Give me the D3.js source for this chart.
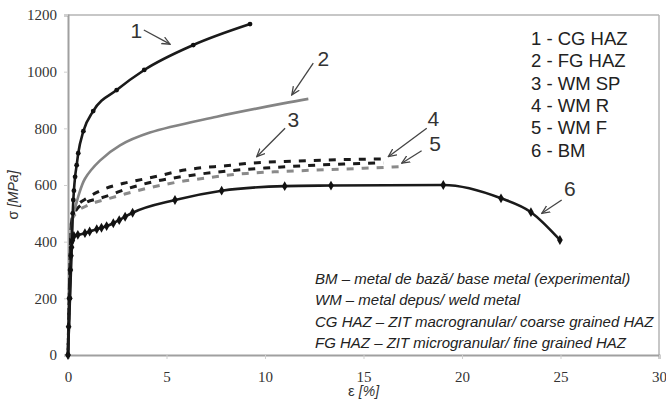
<!DOCTYPE html>
<html>
<head>
<meta charset="utf-8">
<script src="https://cdn.jsdelivr.net/npm/d3@7"></script>
<style>
  html, body { margin: 0; padding: 0; background: #fff; }
  svg { display: block; }
</style>
</head>
<body>
<svg id="chart" width="666" height="409"></svg>
<script>
// ---------- data (strain %, stress MPa) ----------
const cgHaz = [[0,0],[0.1,200],[0.2,400],[0.24,500],[0.27,547],[0.3,580],[0.36,629],[0.44,670],[0.52,712],[0.78,790],[1.28,861],[2.47,935],[3.87,1006],[6.36,1094],[9.24,1168]];
const fgHaz = [[0,0],[0.12,250],[0.25,490],[0.36,518],[0.52,559],[0.86,622],[1.62,686],[2.64,740],[4.16,785],[7.55,841],[10.93,888],[12.2,904]];
const wmSP  = [[0,0],[0.2,480],[0.4,510],[0.96,540],[1.56,552],[2.23,567],[2.83,583],[3.67,600],[4.43,613],[5.28,624],[6.13,633],[6.97,641],[8.5,652],[10,660],[12,668],[14,674],[16,678]];
const wmR   = [[0,0],[0.2,490],[0.4,520],[1,555],[1.81,585],[2.83,606],[3.84,621],[4.77,635],[5.62,649],[6.55,659],[8,668],[9.24,677],[11,683],[13,688],[16.1,692]];
const wmF   = [[0,0],[0.2,475],[0.4,500],[0.9,525],[1.39,539],[1.9,549],[2.83,567],[4,588],[4.94,602],[5.7,612],[6.55,620],[7.8,632],[9.07,641],[11,648],[13,654],[15,659],[16.85,665]];
const bm    = [[0,0],[0.03,100],[0.07,200],[0.12,300],[0.15,350],[0.18,380],[0.22,405],[0.3,420],[0.5,424],[0.86,430],[1.1,436],[1.46,444],[1.7,449],[1.96,455],[2.3,465],[2.6,476],[2.9,488],[3.28,502],[5.43,547],[7.8,580],[11,596],[13.35,598],[19.05,600],[21.98,553],[23.5,504],[24.97,406]];

const xTicks = [0,5,10,15,20,25,30];
const yTicks = [0,200,400,600,800,1000,1200];
const legendLines = ["1 - CG HAZ","2 - FG HAZ","3 - WM SP","4 - WM R","5 - WM F","6 - BM"];
const noteLines = [
  "BM \u2013 metal de baz\u0103/ base metal (experimental)",
  "WM \u2013 metal depus/ weld metal",
  "CG HAZ \u2013 ZIT macrogranular/ coarse grained HAZ",
  "FG HAZ \u2013 ZIT microgranular/ fine grained HAZ"
];
// curve number labels: label position and arrow (from -> to), in data units
const labelText = ["1","2","3","4","5","6"];
const labelPos  = [[3.47,1147],[12.96,1047],[11.44,830],[18.54,835],[18.63,747],[25.48,588]];
const arrowFrom = [[3.85,1147],[12.45,1030],[11.02,800],[18.21,800],[17.95,721],[25.06,547]];
const arrowTo   = [[5.18,1097],[11.36,918],[9.58,700],[16.26,700],[16.94,677],[24.05,500]];

// ---------- layout ----------
const W = 666, H = 409;
const m = {left: 68, top: 15, right: 7, bottom: 54};
const svg = d3.select("#chart");
const x = d3.scaleLinear().domain([0,30]).range([m.left, W - m.right]);
const y = d3.scaleLinear().domain([0,1200]).range([H - m.bottom, m.top]);

const defs = svg.append("defs");
defs.append("marker").attr("id","arr").attr("viewBox","0 0 10 10")
  .attr("refX",9).attr("refY",5).attr("markerWidth",9).attr("markerHeight",9)
  .attr("markerUnits","userSpaceOnUse").attr("orient","auto")
  .append("path").attr("d","M0,1 L9,5 L0,9").attr("fill","none")
  .attr("stroke","#444").attr("stroke-width",1.4);

// frame (top & right)
svg.append("line").attr("x1",x(0)).attr("x2",x(30)).attr("y1",y(1200)).attr("y2",y(1200))
  .attr("stroke","#b5b5b5").attr("stroke-width",1.5);
svg.append("line").attr("x1",x(30)).attr("x2",x(30)).attr("y1",y(1200)).attr("y2",y(0))
  .attr("stroke","#b5b5b5").attr("stroke-width",1.5);

// axes
const gx = svg.append("g").attr("transform",`translate(0,${y(0)})`)
  .call(d3.axisBottom(x).tickValues(xTicks).tickSize(4).tickPadding(12).tickFormat(d3.format("d")));
const gy = svg.append("g").attr("transform",`translate(${x(0)},0)`)
  .call(d3.axisLeft(y).tickValues(yTicks).tickSize(4).tickPadding(7).tickFormat(d3.format("d")));
[gx, gy].forEach(g => {
  g.select(".domain").attr("stroke","#a0a0a0").attr("stroke-width",2);
  g.selectAll(".tick line").attr("stroke","#cfcfcf");
  g.selectAll(".tick text").attr("font-family","'Liberation Serif', 'Times New Roman', serif")
    .attr("font-size",15).attr("fill","#333");
});

// axis titles
const yt = svg.append("text").attr("transform",`translate(18,${(y(0)+y(1200))/2 + 10}) rotate(-90)`)
  .attr("text-anchor","middle").attr("font-family","'Liberation Sans', Arial, sans-serif")
  .attr("font-size",14).attr("fill","#333");
yt.append("tspan").text("\u03c3 ");
yt.append("tspan").attr("font-style","italic").text("[MPa]");
const xt = svg.append("text").attr("x",(x(0)+x(30))/2).attr("y",396)
  .attr("text-anchor","middle").attr("font-family","'Liberation Sans', Arial, sans-serif")
  .attr("font-size",14).attr("fill","#333");
xt.append("tspan").attr("font-size",15).text("\u03b5 ");
xt.append("tspan").attr("font-style","italic").text("[%]");

// curves
const lineM = d3.line().x(d => x(d[0])).y(d => y(d[1])).curve(d3.curveMonotoneX);
const lineC = d3.line().x(d => x(d[0])).y(d => y(d[1])).curve(d3.curveCatmullRom.alpha(0.5));
const series = [
  {data: wmF,   color: "#8a8a8a", dash: "7,8", off: 0, w: 3, gen: lineM},
  {data: wmSP,  color: "#1a1a1a", dash: "7,8", off: 5, w: 3, gen: lineM},
  {data: wmR,   color: "#1a1a1a", dash: "7,8", off: 10, w: 3, gen: lineM},
  {data: fgHaz, color: "#848484", dash: null,  off: 0, w: 2.6, gen: lineC},
  {data: bm,    color: "#1a1a1a", dash: null,  off: 0, w: 2.6, gen: lineM},
  {data: cgHaz, color: "#1a1a1a", dash: null,  off: 0, w: 2.6, gen: lineM}
];
series.forEach(s => {
  svg.append("path").datum(s.data).attr("d", s.gen).attr("fill","none")
    .attr("stroke", s.color).attr("stroke-width", s.w)
    .attr("stroke-dasharray", s.dash).attr("stroke-dashoffset", s.off);
});
// markers
svg.append("g").selectAll("circle").data(cgHaz).join("circle")
  .attr("cx", d => x(d[0])).attr("cy", d => y(d[1])).attr("r", 2.4).attr("fill","#111");
svg.append("g").selectAll("path").data(bm).join("path")
  .attr("transform", d => `translate(${x(d[0])},${y(d[1])})`)
  .attr("d", d3.symbol(d3.symbolDiamond, 28)).attr("fill","#111");

// curve labels with arrows
labelText.forEach((t, i) => {
  svg.append("line")
    .attr("x1", x(arrowFrom[i][0])).attr("y1", y(arrowFrom[i][1]))
    .attr("x2", x(arrowTo[i][0])).attr("y2", y(arrowTo[i][1]))
    .attr("stroke","#444").attr("stroke-width",1.3).attr("marker-end","url(#arr)");
  svg.append("text").attr("x", x(labelPos[i][0])).attr("y", y(labelPos[i][1]))
    .attr("text-anchor","middle").attr("dominant-baseline","central")
    .attr("font-family","'Liberation Sans', Arial, sans-serif").attr("font-size",21)
    .attr("fill","#333").text(t);
});

// legend (top right)
svg.append("g").selectAll("text").data(legendLines).join("text")
  .attr("x", 531).attr("y", (d,i) => 38.5 + i*22.3)
  .attr("dominant-baseline","central")
  .attr("font-family","'Liberation Sans', Arial, sans-serif").attr("font-size",18.5)
  .attr("fill","#222").text(d => d);

// notes (bottom right)
svg.append("g").selectAll("text").data(noteLines).join("text")
  .attr("x", 315).attr("y", (d,i) => 278.5 + i*21.4)
  .attr("dominant-baseline","central")
  .attr("font-family","'Liberation Sans', Arial, sans-serif").attr("font-size",15)
  .attr("font-style","italic").attr("fill","#222").text(d => d);
</script>
</body>
</html>
